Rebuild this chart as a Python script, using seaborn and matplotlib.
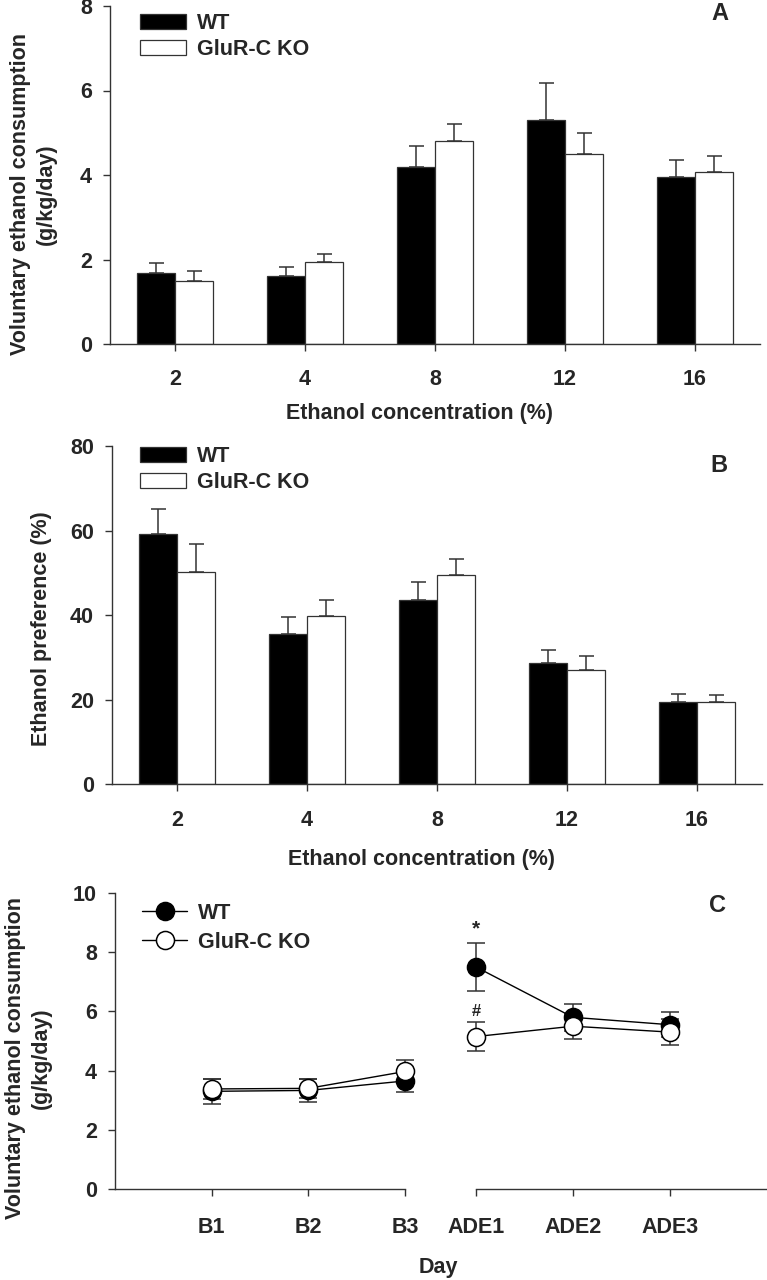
import matplotlib
matplotlib.use('Agg')
import matplotlib.pyplot as plt
import seaborn as sns
import pandas as pd
import numpy as np

# Data
conc_labels = ['2', '4', '8', '12', '16']
genotypes = ['WT', 'GluR-C KO']

# Panel A: voluntary ethanol consumption (g/kg/day)
wt_intake = [1.68, 1.62, 4.20, 5.30, 3.95]
ko_intake = [1.48, 1.95, 4.80, 4.50, 4.07]
wt_intake_sem = [0.24, 0.20, 0.48, 0.88, 0.40]
ko_intake_sem = [0.25, 0.17, 0.40, 0.50, 0.37]

# Panel B: ethanol preference (%)
wt_pref = [59.2, 35.5, 43.5, 28.7, 19.5]
ko_pref = [50.2, 39.8, 49.5, 27.0, 19.5]
wt_pref_sem = [5.8, 4.0, 4.3, 2.9, 1.9]
ko_pref_sem = [6.6, 3.7, 3.8, 3.2, 1.5]

# Panel C: consumption across baseline and ADE days
days = ['B1', 'B2', 'B3', 'ADE1', 'ADE2', 'ADE3']
wt_day = [3.30, 3.33, 3.65, 7.50, 5.80, 5.55]
ko_day = [3.38, 3.40, 3.97, 5.15, 5.50, 5.30]
wt_day_sem = [0.42, 0.38, 0.37, 0.82, 0.45, 0.42]
ko_day_sem = [0.35, 0.33, 0.40, 0.48, 0.42, 0.43]
star_y = 8.78
hash_y = 5.98

sns.set_style('ticks')
plt.rcParams['font.family'] = ['Liberation Sans', 'DejaVu Sans']
plt.rcParams['font.weight'] = 'bold'
plt.rcParams['axes.labelweight'] = 'bold'

W, H = 767, 1280
fig = plt.figure(figsize=(W / 100, H / 100), dpi=100)

FS = 15.5
SPINE = '#333333'


def px_rect(left, top, right, bottom):
    return [left / W, 1 - bottom / H, (right - left) / W, (bottom - top) / H]


def style_ax(ax, pad_x):
    for s in ['top', 'right']:
        ax.spines[s].set_visible(False)
    for s in ['left', 'bottom']:
        ax.spines[s].set_color(SPINE)
        ax.spines[s].set_linewidth(1.0)
    ax.tick_params(axis='both', length=5, width=1.0, color=SPINE,
                   labelsize=FS, direction='out')
    ax.tick_params(axis='x', pad=pad_x)
    ax.tick_params(axis='y', pad=8)
    ax.set_xlabel('')
    ax.set_ylabel('')


def bar_panel(rect, wt, ko, wt_sem, ko_sem, ymax, ystep, pad_x, leg_top):
    ax = fig.add_axes(rect)
    df = pd.DataFrame({
        'conc': conc_labels * 2,
        'genotype': ['WT'] * 5 + ['GluR-C KO'] * 5,
        'value': wt + ko,
    })
    sns.barplot(data=df, x='conc', y='value', hue='genotype', order=conc_labels,
                hue_order=genotypes, palette={'WT': 'black', 'GluR-C KO': 'white'},
                width=0.58, errorbar=None, edgecolor=SPINE, linewidth=0.9, ax=ax)
    for cont, sem in zip(ax.containers, [wt_sem, ko_sem]):
        xs = [p.get_x() + p.get_width() / 2 for p in cont]
        ys = [p.get_height() for p in cont]
        ax.errorbar(xs, ys, yerr=[np.zeros(len(sem)), sem], fmt='none',
                    ecolor=SPINE, elinewidth=1.1, capsize=5.4, capthick=1.1, zorder=1)
    ax.set_xlim(-0.5, 4.5)
    ax.set_ylim(0, ymax)
    ax.set_yticks(np.arange(0, ymax + 1e-9, ystep))
    style_ax(ax, pad_x)
    handles, labels = ax.get_legend_handles_labels()
    ax.legend(handles, labels, loc='upper left', frameon=False,
              bbox_to_anchor=(140 / W, 1 - leg_top / H), bbox_transform=fig.transFigure,
              borderpad=0, borderaxespad=0, handlelength=2.15, handleheight=0.7,
              handletextpad=0.5, labelspacing=0.22, fontsize=FS)
    return ax


axA = bar_panel(px_rect(110, 6, 760, 344), wt_intake, ko_intake, wt_intake_sem,
                ko_intake_sem, 8, 2, 13, 13)
axB = bar_panel(px_rect(112, 446, 762, 784), wt_pref, ko_pref, wt_pref_sem,
                ko_pref_sem, 80, 20, 13.5, 446)

# Panel C: broken x axis made of two axes
axL = fig.add_axes(px_rect(115, 893, 405, 1189))
axR = fig.add_axes(px_rect(476, 893, 767, 1189), sharey=axL)

segments = [(axL, [1, 2, 3], slice(0, 3)), (axR, [0, 1, 2], slice(3, 6))]
leg_lines = []
for ax, pos, sl in segments:
    for vals, sem, face in [(wt_day, wt_day_sem, 'black'), (ko_day, ko_day_sem, 'white')]:
        ax.errorbar(pos, vals[sl], yerr=sem[sl], fmt='none', ecolor=SPINE,
                    elinewidth=1.1, capsize=6.5, capthick=1.1, zorder=2, clip_on=False)
        sns.lineplot(x=pos, y=vals[sl], color='black', linewidth=1.0, marker='o',
                     markersize=13, markerfacecolor=face, markeredgecolor='black',
                     markeredgewidth=1.1, ax=ax, clip_on=False, zorder=3)
        if ax is axL:
            leg_lines.append(ax.get_lines()[-1])
    ax.set_xlim(pos[0] - 1 if ax is axL else 0, 3)
    ax.set_xticks(pos)
    ax.set_xticklabels(days[sl])
    style_ax(ax, 15)

axL.set_ylim(0, 10)
axL.set_yticks(np.arange(0, 11, 2))
axR.spines['left'].set_visible(False)
axR.tick_params(axis='y', left=False, labelleft=False)
axR.patch.set_alpha(0)

axL.legend(leg_lines, genotypes, loc='upper left', frameon=False,
           bbox_to_anchor=(142 / W, 1 - 903 / H), bbox_transform=fig.transFigure,
           borderpad=0, borderaxespad=0, handlelength=2.1, handletextpad=0.5,
           labelspacing=0.35, numpoints=1, fontsize=FS)

axR.text(0, star_y, '*', ha='center', va='center', fontsize=15)
axR.text(0, hash_y, '#', ha='center', va='center', fontsize=12)

# Axis titles and panel letters
fig.text(33 / W, 1 - 194 / H, 'Voluntary ethanol consumption\n(g/kg/day)', rotation=90,
         ha='center', va='center', fontsize=FS, linespacing=1.3)
fig.text(42 / W, 1 - 629 / H, 'Ethanol preference (%)', rotation=90,
         ha='center', va='center', fontsize=FS)
fig.text(28 / W, 1 - 1058 / H, 'Voluntary ethanol consumption\n(g/kg/day)', rotation=90,
         ha='center', va='center', fontsize=FS, linespacing=1.3)
fig.text(419 / W, 1 - 413 / H, 'Ethanol concentration (%)', ha='center', va='center', fontsize=FS)
fig.text(421 / W, 1 - 860 / H, 'Ethanol concentration (%)', ha='center', va='center', fontsize=FS)
fig.text(438 / W, 1 - 1268 / H, 'Day', ha='center', va='center', fontsize=FS)
fig.text(720 / W, 1 - 13 / H, 'A', ha='center', va='center', fontsize=17)
fig.text(719 / W, 1 - 466 / H, 'B', ha='center', va='center', fontsize=17)
fig.text(717 / W, 1 - 905 / H, 'C', ha='center', va='center', fontsize=17)

fig.savefig('out.png', dpi=100)
